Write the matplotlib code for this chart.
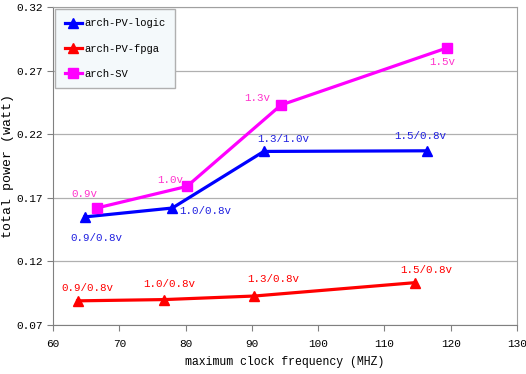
import matplotlib
matplotlib.use("Agg")
import matplotlib.pyplot as plt

# data
logic_freq = [64.8, 78.0, 91.8, 116.5]
logic_power = [0.155, 0.162, 0.2065, 0.207]
logic_labels = ["0.9/0.8v", "1.0/0.8v", "1.3/1.0v", "1.5/0.8v"]

fpga_freq = [63.7, 76.8, 90.4, 114.6]
fpga_power = [0.089, 0.090, 0.0928, 0.1033]
fpga_labels = ["0.9/0.8v", "1.0/0.8v", "1.3/0.8v", "1.5/0.8v"]

sv_freq = [66.6, 80.2, 94.4, 119.5]
sv_power = [0.162, 0.179, 0.243, 0.288]
sv_labels = ["0.9v", "1.0v", "1.3v", "1.5v"]

x_ticks = [60, 70, 80, 90, 100, 110, 120, 130]
y_ticks = [0.07, 0.12, 0.17, 0.22, 0.27, 0.32]

plt.rcParams['font.family'] = ['Liberation Mono', 'DejaVu Sans']

fig = plt.figure(figsize=(5.26, 3.74), dpi=100)
ax = fig.add_axes([0.1008, 0.131, 0.882, 0.85])

ax.plot(logic_freq, logic_power, color="#0000ff", lw=2.3, marker="^", ms=7.5, label="arch-PV-logic", zorder=3)
ax.plot(fpga_freq, fpga_power, color="#ff0000", lw=2.3, marker="^", ms=7.5, label="arch-PV-fpga", zorder=3)
ax.plot(sv_freq, sv_power, color="#ff00ff", lw=2.3, marker="s", ms=6.5, label="arch-SV", zorder=3)

# label offsets in pixels (dx, dy)
logic_off = [(12, -21), (7, -3), (19, 12), (-7, 15)]
sv_off = [(-12, 14), (-17, 6), (-24, 7), (-5, -14)]
fpga_off = [(10, 13), (5, 16), (19, 17), (11, 13)]

for i, (x, y) in enumerate(zip(logic_freq, logic_power)):
    dx, dy = logic_off[i]
    ha = "left" if i == 1 else "center"
    ax.annotate(logic_labels[i], (x, y), xytext=(dx, dy), textcoords="offset pixels",
                ha=ha, va="center", color="#2020e0", fontsize=7.8)
for i, (x, y) in enumerate(zip(sv_freq, sv_power)):
    dx, dy = sv_off[i]
    ax.annotate(sv_labels[i], (x, y), xytext=(dx, dy), textcoords="offset pixels",
                ha="center", va="center", color="#ff33cc", fontsize=7.8)
for i, (x, y) in enumerate(zip(fpga_freq, fpga_power)):
    dx, dy = fpga_off[i]
    ax.annotate(fpga_labels[i], (x, y), xytext=(dx, dy), textcoords="offset pixels",
                ha="center", va="center", color="#ff0000", fontsize=7.8)

ax.set_xlim(60, 130)
ax.set_ylim(0.07, 0.32)
ax.set_xticks(x_ticks)
ax.set_yticks(y_ticks)
ax.set_yticklabels(["%.2f" % v for v in y_ticks])
ax.tick_params(labelsize=8, length=4, color="#808080")
ax.tick_params(axis="x", pad=6)
ax.yaxis.grid(True, color="#b0b0b0", lw=0.9)
ax.set_axisbelow(True)
for s in ax.spines.values():
    s.set_color("#a0a0a0")
ax.spines["left"].set_color("#808080")
ax.spines["bottom"].set_color("#808080")

ax.set_xlabel("maximum clock frequency (MHZ)", fontsize=8.3, labelpad=5)
ax.set_ylabel("total power (watt)", fontsize=9.5)
ax.yaxis.set_label_coords(-0.084, 0.5)

leg = ax.legend(loc="upper left", bbox_to_anchor=(0.003, 0.998), fontsize=7.6,
                frameon=True, fancybox=False, handlelength=1.6, labelspacing=1.45,
                borderpad=0.9, handletextpad=0.2, borderaxespad=0.1)
leg.get_frame().set_facecolor("#f4f9fb")
leg.get_frame().set_edgecolor("#b0b0b0")
leg.get_frame().set_alpha(1)

fig.savefig("out.png", dpi=100)
